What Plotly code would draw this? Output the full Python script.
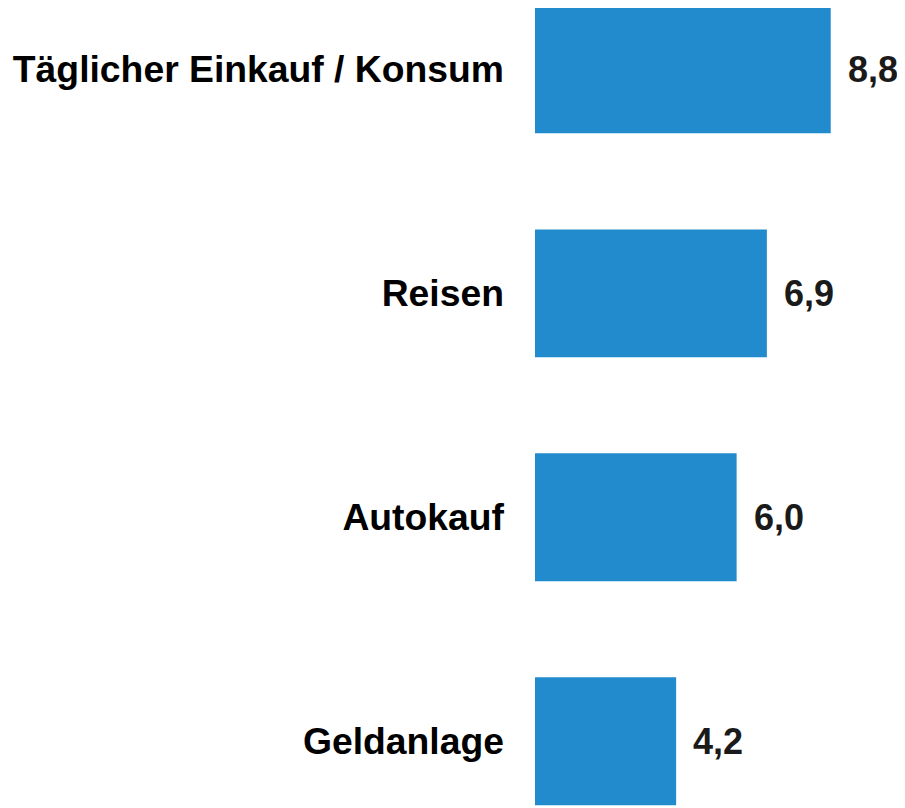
import plotly.graph_objects as go

categories = ["Täglicher Einkauf / Konsum", "Reisen", "Autokauf", "Geldanlage"]
values = [8.8, 6.9, 6.0, 4.2]
value_labels = ["8,8", "6,9", "6,0", "4,2"]

fig = go.Figure(
    go.Bar(
        x=values,
        y=categories,
        orientation="h",
        width=0.571,
        marker=dict(color="#228BCD", line=dict(width=0)),
        hoverinfo="skip",
    )
)

for cat, v, lab in zip(categories, values, value_labels):
    fig.add_annotation(
        x=v, y=cat, text=lab, showarrow=False, xanchor="left", yanchor="middle",
        xshift=15, font=dict(family="Liberation Sans, Arial, sans-serif", size=36, color="#1a1a1a"),
    )

fig.update_layout(
    width=897, height=800,
    margin=dict(l=527, r=0, t=0, b=0),
    paper_bgcolor="white", plot_bgcolor="white",
    showlegend=False,
    font=dict(family="Liberation Sans, Arial, sans-serif", size=37, color="#000000"),
    xaxis=dict(range=[0, 11.01], visible=False, showgrid=False, zeroline=False),
    yaxis=dict(
        type="category",
        range=[3.298, -0.274],
        showgrid=False, zeroline=False, showline=False, ticks="",
        ticklabelstandoff=30,
        tickfont=dict(family="Liberation Sans, Arial, sans-serif", size=37.3, color="#000000", weight="bold"),
    ),
)
fig.update_annotations(font_weight="bold")

fig.write_html("out.html")
